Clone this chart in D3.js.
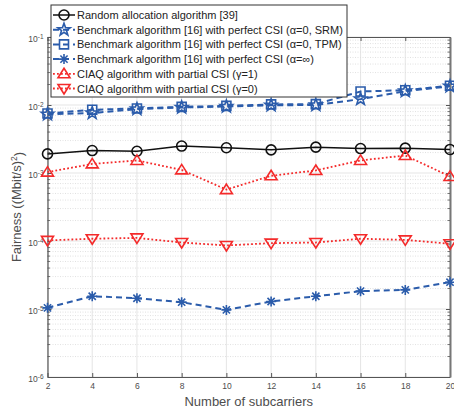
<!DOCTYPE html>
<html><head><meta charset="utf-8">
<script src="https://cdn.jsdelivr.net/npm/d3@7"></script>
<style>
html,body{margin:0;padding:0;background:#fff;}
svg{display:block;font-family:"Liberation Sans",Arial,sans-serif;}
</style></head>
<body><svg id="chart" width="454" height="410"></svg>
<script>
const subcarriers = [2,4,6,8,10,12,14,16,18,20];
const randomAlloc = [1.91e-3,2.14e-3,2.09e-3,2.49e-3,2.35e-3,2.19e-3,2.40e-3,2.29e-3,2.32e-3,2.22e-3];
const benchSRM   = [7.3e-3,7.6e-3,8.7e-3,9.2e-3,9.5e-3,9.9e-3,1.0e-2,1.22e-2,1.6e-2,1.88e-2];
const benchTPM   = [7.5e-3,8.5e-3,8.9e-3,9.4e-3,9.7e-3,1.02e-2,1.03e-2,1.58e-2,1.65e-2,1.92e-2];
const benchInf   = [1.04e-5,1.54e-5,1.44e-5,1.26e-5,9.7e-6,1.29e-5,1.54e-5,1.83e-5,1.91e-5,2.48e-5];
const ciaqG1     = [1.03e-3,1.36e-3,1.53e-3,1.11e-3,5.7e-4,9.1e-4,1.09e-3,1.53e-3,1.81e-3,8.9e-4];
const ciaqG0     = [1.02e-4,1.08e-4,1.11e-4,9.5e-5,8.6e-5,9.3e-5,9.5e-5,1.08e-4,1.04e-4,9.1e-5];
const seriesNames = [
  "Random allocation algorithm [39]",
  "Benchmark algorithm [16] with perfect CSI (α=0, SRM)",
  "Benchmark algorithm [16] with perfect CSI (α=0, TPM)",
  "Benchmark algorithm [16] with perfect CSI (α=∞)",
  "CIAQ algorithm with partial CSI (γ=1)",
  "CIAQ algorithm with partial CSI (γ=0)"
];
const yTickExps = [-6,-5,-4,-3,-2,-1];
const xLabel = "Number of subcarriers";

const svg = d3.select("#chart");
const L=47.5, R=450, T=37, B=377;
const x = d3.scaleLinear().domain([2,20]).range([L,R]);
const y = d3.scaleLog().domain([1e-6,1e-1]).range([B,T]);

const blue="#2b5cab", red="#f42a2a", black="#111";
const axisCol="#555";

// grid
const minorVals=[];
yTickExps.slice(0,-1).forEach(e=>{for(let k=2;k<=9;k++) minorVals.push(k*Math.pow(10,e));});
const g=svg.append("g");
g.selectAll(".ymin").data(minorVals).join("line")
  .attr("x1",L).attr("x2",R).attr("y1",d=>y(d)).attr("y2",d=>y(d))
  .attr("stroke","#d4d4d4").attr("stroke-width",0.7).attr("stroke-dasharray","1,1.5");
g.selectAll(".ymaj").data(yTickExps.map(e=>Math.pow(10,e))).join("line")
  .attr("x1",L).attr("x2",R).attr("y1",d=>y(d)).attr("y2",d=>y(d))
  .attr("stroke","#dedede").attr("stroke-width",0.8);
g.selectAll(".xmaj").data(subcarriers).join("line")
  .attr("x1",d=>x(d)).attr("x2",d=>x(d)).attr("y1",T).attr("y2",B)
  .attr("stroke","#dedede").attr("stroke-width",0.8);

// axes
function styleAxis(sel){
  sel.select(".domain").attr("stroke",axisCol).attr("stroke-width",1.2);
  sel.selectAll(".tick line").attr("stroke",axisCol);
  sel.selectAll("text").attr("fill","#4d4d4d").attr("font-size","8.5px");
}
const xb=svg.append("g").attr("transform",`translate(0,${B})`)
  .call(d3.axisBottom(x).tickValues(subcarriers).tickSizeInner(-4).tickSizeOuter(0).tickPadding(6).tickFormat(d3.format("d")));
styleAxis(xb);
const xt=svg.append("g").attr("transform",`translate(0,${T})`)
  .call(d3.axisTop(x).tickValues(subcarriers).tickSizeInner(-4).tickSizeOuter(0).tickFormat(""));
styleAxis(xt);
const yl=svg.append("g").attr("transform",`translate(${L},0)`)
  .call(d3.axisLeft(y).tickValues(yTickExps.map(e=>Math.pow(10,e))).tickSizeInner(-4).tickSizeOuter(0).tickPadding(4).tickFormat(""));
styleAxis(yl);
yl.selectAll(".tick text").each(function(d){
  const t=d3.select(this);
  t.text(null).attr("dy","0.55em");
  t.append("tspan").text("10");
  t.append("tspan").attr("dy","-0.55em").attr("font-size","6.5px").text(String(Math.round(Math.log10(d))));
});
const yr=svg.append("g").attr("transform",`translate(${R},0)`)
  .call(d3.axisRight(y).tickValues(yTickExps.map(e=>Math.pow(10,e))).tickSizeInner(-4).tickSizeOuter(0).tickFormat(""));
styleAxis(yr);
yr.select(".domain").attr("stroke-width",2).attr("stroke","#777");
[L,R].forEach((px,i)=>{
  svg.append("g").selectAll("line").data(minorVals).join("line")
   .attr("x1",px).attr("x2",px+(i===0?2.5:-2.5)).attr("y1",d=>y(d)).attr("y2",d=>y(d))
   .attr("stroke",axisCol).attr("stroke-width",0.8);
});

// markers
function star(r){const pts=[];for(let i=0;i<10;i++){const a=-Math.PI/2+i*Math.PI/5;const rr=i%2?r*0.4:r;pts.push([rr*Math.cos(a),rr*Math.sin(a)]);}return "M"+pts.join("L")+"Z";}
const markers={
  circle:"M5,0A5,5 0 1,1 -5,0A5,5 0 1,1 5,0Z",
  star:star(6.5),
  square:"M-4.5,-4.5H4.5V4.5H-4.5Z",
  asterisk:"M0,-5V5M-5,0H5M-3.6,-3.6L3.6,3.6M-3.6,3.6L3.6,-3.6",
  triUp:"M0,-5.5L6,4L-6,4Z",
  triDown:"M0,5.5L6,-4L-6,-4Z"
};
const series=[
  {name:seriesNames[0],vals:randomAlloc,color:black,dash:null,w:1.5,m:"circle"},
  {name:seriesNames[1],vals:benchSRM,color:blue,dash:"6,4",w:2,m:"star"},
  {name:seriesNames[2],vals:benchTPM,color:blue,dash:"6,4",w:2,m:"square"},
  {name:seriesNames[3],vals:benchInf,color:blue,dash:"6,4",w:2,m:"asterisk"},
  {name:seriesNames[4],vals:ciaqG1,color:red,dash:"1.8,2.2",w:1.8,m:"triUp"},
  {name:seriesNames[5],vals:ciaqG0,color:red,dash:"1.8,2.2",w:1.8,m:"triDown"}
];
const line=d3.line().x((d,i)=>x(subcarriers[i])).y(d=>y(d));
const plotOrder=[0,2,1,3,4,5];
plotOrder.forEach(k=>{
  const s=series[k];
  const gs=svg.append("g");
  gs.append("path").attr("d",line(s.vals)).attr("fill","none").attr("stroke",s.color)
    .attr("stroke-width",s.w).attr("stroke-dasharray",s.dash);
  gs.selectAll("path.mk").data(s.vals).join("path").attr("class","mk")
    .attr("transform",(d,i)=>`translate(${x(subcarriers[i])},${y(d)})`)
    .attr("d",markers[s.m]).attr("fill","none").attr("stroke",s.color).attr("stroke-width",1.6);
});

// legend
const lg=svg.append("g");
lg.append("rect").attr("x",51).attr("y",5).attr("width",296).attr("height",92)
  .attr("fill","#fff").attr("stroke","#333").attr("stroke-width",1);
series.forEach((s,i)=>{
  const cy=15+i*14.7;
  lg.append("line").attr("x1",53).attr("x2",75).attr("y1",cy).attr("y2",cy)
    .attr("stroke",s.color).attr("stroke-width",s.w).attr("stroke-dasharray",s.dash);
  lg.append("path").attr("transform",`translate(64,${cy})`).attr("d",markers[s.m])
    .attr("fill","none").attr("stroke",s.color).attr("stroke-width",1.6);
  lg.append("text").attr("x",77).attr("y",cy+4).attr("font-size","11px").attr("fill","#222").text(s.name);
});

// labels
svg.append("text").attr("x",(L+R)/2).attr("y",406).attr("text-anchor","middle")
  .attr("font-size","13px").attr("fill","#4d4d4d").text(xLabel);
const ylab=svg.append("text").attr("transform",`translate(21,${(T+B)/2}) rotate(-90)`)
  .attr("text-anchor","middle").attr("font-size","13px").attr("fill","#4d4d4d");
ylab.append("tspan").text("Fairness ((Mbit/s)");
ylab.append("tspan").attr("dy","-0.5em").attr("font-size","8.5px").text("2");
ylab.append("tspan").attr("dy","0.5em").text(")");
</script></body></html>
